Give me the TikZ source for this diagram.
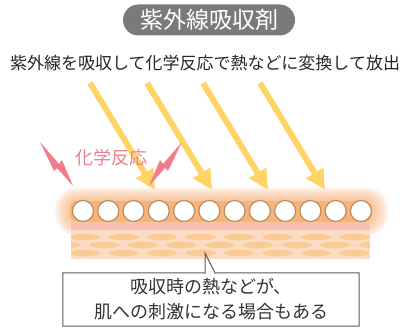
\documentclass[tikz,border=0pt]{standalone}
\usepackage{fontspec}
\setmainfont{Noto Sans CJK JP}
\definecolor{titlegray}{RGB}{122, 122, 122}
\definecolor{rayyellow}{RGB}{255, 212, 102}
\definecolor{boltpink}{RGB}{240, 124, 142}
\definecolor{glow}{RGB}{247, 170, 110}
\definecolor{strippink}{RGB}{249, 190, 178}
\definecolor{skin}{RGB}{252, 220, 196}
\definecolor{cell}{RGB}{251, 203, 150}
\definecolor{ringbrown}{RGB}{185, 141, 94}
\definecolor{notegray}{RGB}{90, 90, 90}
\usetikzlibrary{arrows.meta}

\begin{document}
\begin{tikzpicture}[
    x=1pt, y=-1pt,
    pill/.style={fill=titlegray, text=white, rounded corners=15.5pt, minimum width=172pt, minimum height=31pt, inner sep=0pt, font=\fontsize{23}{23}\selectfont},
    ray/.style={-{Triangle[width=19pt, length=20pt]}, line width=6pt, color=rayyellow},
    bolt/.style={fill=boltpink},
    particle/.style={circle, draw=ringbrown, fill=white, line width=1.2pt, minimum size=21pt, inner sep=0pt},
    notebox/.style={draw=notegray, line width=1pt},
    notetext/.style={align=center, inner sep=0pt, minimum width=296pt, minimum height=53pt, font=\fontsize{18}{25}\selectfont, text=black!80}
  ]
    \useasboundingbox (0,0) rectangle (418,329);

    \node[pill] (title) at (209,20) {紫外線吸収剤};
    \node[font=\fontsize{17}{17}\selectfont, text=black!85] (lead) at (205,63) {紫外線を吸収して化学反応で熱などに変換して放出};

    % orange glow around the layer of particles
    \foreach \g in {1,...,14}
      \fill[glow, opacity=0.07, rounded corners=(8+\g)*1pt] (70-1.1*\g,201-1*\g) rectangle (372+1.2*\g,222+1*\g);
    \fill[glow, opacity=0.7, rounded corners=8pt] (70,201) rectangle (372,222);

    % skin
    \fill[strippink] (71,223) rectangle (370,230);
    \fill[skin] (71,230) rectangle (370,259);
    \begin{scope}
      \clip (71,230) rectangle (370,259);
      \foreach \k in {0,...,8} {
        \fill[cell] (85+38.5*\k,237) ellipse (15 and 3.3);
        \fill[cell] (65.75+38.5*\k,245) ellipse (15 and 3.3);
        \fill[cell] (85+38.5*\k,253) ellipse (15 and 3.3);
      }
    \end{scope}

    \foreach \i in {0,...,11}
      \node[particle] (p\i) at (83+25.27*\i,211) {};

    % incoming rays
    \foreach \i/\sx/\ex in {1/90/155, 2/147/212, 3/203/268, 4/260/325} {
      \coordinate (ray\i) at (\sx,83);
      \coordinate (hit\i) at (\ex,190);
      \draw[ray] (ray\i) -- (hit\i);
    }

    % sparks
    \fill[bolt] (40,142) -- (59,164) -- (62,160) -- (73,186) -- (57,168) -- (54,171) -- cycle;
    \fill[bolt] (182,142) -- (163,164) -- (160,160) -- (149,186) -- (165,168) -- (168,171) -- cycle;
    \node[text=boltpink, font=\fontsize{18}{18}\selectfont] (reaction) at (111,158) {化学反応};

    % callout
    \coordinate (tip) at (205,253);
    \node[notetext] (note) at (211,299.5) {吸収時の熱などが、\\肌への刺激になる場合もある};
    \draw[notebox] (note.north west) -- (205,273) -- (tip) -- (215,273) -- (note.north east) -- (note.south east) -- (note.south west) -- cycle;
  \end{tikzpicture}
\end{document}
